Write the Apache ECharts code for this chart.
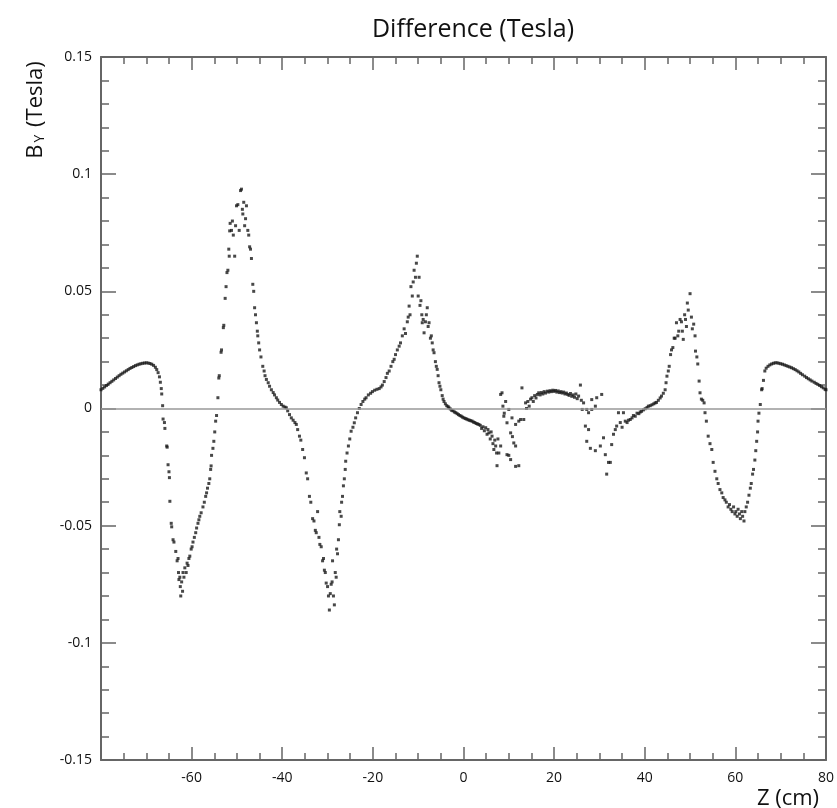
<!DOCTYPE html>
<html>
<head>
<meta charset="utf-8">
<script src="https://cdn.jsdelivr.net/npm/echarts@6/dist/echarts.min.js"></script>
<style>
html,body{margin:0;padding:0;background:#fff;}
#chart{width:837px;height:808px;}
</style>
</head>
<body>
<div id="chart"></div>
<script>
var zCm = [
-80.0,-79.6,-79.2,-78.8,-78.4,-78.0,-77.6,-77.2,-76.8,-76.4,-76.0,-75.6,-75.2,-74.8,-74.4,-74.0,-73.6,-73.2,-72.8,-72.4,-72.0,-71.6,-71.2,-70.8,-70.4,-70.0,-69.6,-69.2,-68.8,-68.4,-68.0,-67.7,-67.4,-67.1,-66.9,-66.7,-66.6,-66.4,-66.3,-66.0,-65.9,-65.5,-65.4,-65.2,-65.0,-64.9,-64.8,-64.5,-64.4,-64.1,-63.9,-63.5,-63.2,-63.0,-62.9,-62.8,-62.6,-62.5,-62.4,-62.2,-62.0,-61.9,-61.7,-61.5,-61.2,-61.0,-60.8,-60.6,-60.4,-60.1,-59.9,-59.7,-59.4,-59.1,-58.9,-58.6,-58.4,-58.2,-57.9,-57.5,-57.2,-56.9,-56.7,-56.5,-56.2,-56.0,-55.8,-55.7,-55.6,-55.3,-55.1,-54.9,-54.7,-54.5,-54.2,-54.0,-53.9,-53.5,-53.4,-53.0,-52.9,-52.6,-52.4,-52.2,-52.0,-51.8,-51.7,-51.6,-51.5,-51.2,-51.0,-50.8,-50.5,-50.3,-50.1,-49.8,-49.5,-49.2,-49.0,-48.8,-48.7,-48.5,-48.3,-48.1,-47.9,-47.6,-47.4,-47.2,-47.0,-46.8,-46.5,-46.3,-46.1,-45.9,-45.7,-45.5,-45.4,-45.2,-45.0,-44.7,-44.3,-44.0,-43.8,-43.5,-43.1,-42.8,-42.4,-42.0,-41.7,-41.3,-41.0,-40.6,-40.2,-39.8,-39.4,-39.1,-38.8,-38.4,-38.0,-37.6,-37.2,-36.9,-36.6,-36.2,-35.9,-35.5,-35.1,-34.7,-34.4,-34.0,-33.7,-33.3,-33.0,-32.7,-32.5,-32.2,-31.9,-31.7,-31.4,-31.1,-30.9,-30.7,-30.5,-30.3,-30.0,-29.8,-29.6,-29.4,-29.2,-29.0,-28.9,-28.7,-28.5,-28.3,-28.1,-28.0,-27.8,-27.6,-27.4,-27.3,-27.0,-26.9,-26.7,-26.5,-26.3,-26.1,-26.0,-25.7,-25.4,-25.1,-24.8,-24.4,-24.1,-23.8,-23.4,-23.0,-22.6,-22.2,-21.8,-21.5,-21.0,-20.5,-20.1,-19.6,-19.1,-18.6,-18.2,-17.9,-17.5,-17.1,-16.8,-16.4,-16.0,-15.6,-15.3,-15.0,-14.6,-14.2,-13.9,-13.5,-13.1,-12.8,-12.4,-12.2,-12.0,-11.8,-11.6,-11.3,-11.1,-10.9,-10.6,-10.4,-10.2,-10.0,-9.8,-9.6,-9.4,-9.2,-9.1,-8.9,-8.7,-8.4,-8.2,-8.0,-7.8,-7.6,-7.3,-7.1,-6.9,-6.7,-6.5,-6.2,-6.0,-5.8,-5.6,-5.4,-5.2,-5.0,-4.7,-4.5,-4.3,-4.0,-3.7,-3.4,-3.2,-2.9,-2.6,-2.3,-2.0,-1.7,-1.4,-1.1,-0.8,-0.5,-0.2,0.1,0.4,0.7,1.0,1.3,1.6,1.9,2.2,2.5,2.8,3.1,3.4,3.7,4.0,4.3,4.6,4.9,5.2,5.4,5.6,5.9,6.1,6.3,6.5,6.7,6.9,7.1,7.3,7.4,7.6,7.8,8.2,8.2,8.5,8.7,8.9,9.0,9.3,9.6,9.6,10.0,10.0,10.4,10.4,10.7,10.8,11.1,11.5,11.5,11.5,12.2,12.2,12.6,12.9,13.3,13.7,13.9,14.2,14.5,14.8,15.1,15.4,15.7,16.0,16.3,16.6,16.9,17.2,17.5,17.8,18.1,18.5,18.8,19.1,19.4,19.7,20.0,20.3,20.6,20.9,21.2,21.5,21.8,22.1,22.4,22.7,23.0,23.3,23.6,23.9,24.2,24.5,24.8,25.1,25.4,25.8,26.0,26.2,26.5,26.9,27.2,27.2,27.6,27.6,28.0,28.3,28.3,29.1,29.1,29.4,30.2,30.5,30.9,31.3,31.6,32.0,32.4,32.7,33.1,33.5,33.8,34.2,34.6,35.0,35.3,35.7,36.1,36.4,36.8,37.2,37.5,37.9,38.3,38.7,39.0,39.3,39.7,40.1,40.5,40.8,41.2,41.6,42.0,42.3,42.6,43.0,43.4,43.7,44.1,44.5,44.7,44.9,45.2,45.4,45.7,45.9,46.2,46.5,46.7,47.0,47.3,47.5,47.8,48.1,48.3,48.5,48.8,49.0,49.2,49.4,49.6,50.0,50.3,50.5,50.8,51.1,51.2,51.5,51.7,52.0,52.2,52.5,52.8,53.1,53.3,53.6,54.0,54.4,54.8,55.1,55.5,55.9,56.2,56.6,57.0,57.3,57.7,58.0,58.4,58.7,59.0,59.3,59.6,59.9,60.1,60.4,60.6,60.9,61.1,61.4,61.6,61.9,62.1,62.4,62.7,63.0,63.3,63.5,63.8,64.0,64.3,64.5,64.7,64.9,65.0,65.2,65.5,65.8,65.9,66.2,66.5,66.8,67.2,67.6,68.0,68.4,68.8,69.2,69.6,70.0,70.4,70.8,71.2,71.6,72.0,72.4,72.8,73.2,73.6,74.0,74.4,74.8,75.3,75.7,76.1,76.5,76.9,77.4,77.8,78.2,78.6,79.0,79.4,79.8,80.0
];
var byTesla = [
0.0080,0.0086,0.0092,0.0098,0.0104,0.0110,0.0116,0.0122,0.0128,0.0134,0.0140,0.0146,0.0151,0.0156,0.0161,0.0166,0.0171,0.0175,0.0179,0.0183,0.0186,0.0189,0.0191,0.0193,0.0194,0.0195,0.0194,0.0192,0.0189,0.0184,0.0176,0.0166,0.0153,0.0135,0.0112,0.0085,0.0062,0.0012,-0.0045,-0.0060,-0.0085,-0.0160,-0.0165,-0.0240,-0.0270,-0.0295,-0.0396,-0.0490,-0.0505,-0.0560,-0.0570,-0.0610,-0.0650,-0.0640,-0.0700,-0.0730,-0.0720,-0.0760,-0.0800,-0.0740,-0.0780,-0.0700,-0.0720,-0.0680,-0.0700,-0.0660,-0.0670,-0.0640,-0.0630,-0.0600,-0.0590,-0.0570,-0.0550,-0.0530,-0.0510,-0.0490,-0.0475,-0.0460,-0.0445,-0.0420,-0.0400,-0.0375,-0.0360,-0.0340,-0.0320,-0.0300,-0.0260,-0.0245,-0.0200,-0.0170,-0.0140,-0.0100,-0.0054,-0.0030,0.0046,0.0130,0.0140,0.0240,0.0250,0.0345,0.0355,0.0470,0.0520,0.0580,0.0590,0.0680,0.0650,0.0758,0.0790,0.0760,0.0800,0.0740,0.0650,0.0780,0.0865,0.0870,0.0760,0.0930,0.0936,0.0850,0.0830,0.0880,0.0780,0.0810,0.0865,0.0760,0.0740,0.0690,0.0680,0.0640,0.0530,0.0500,0.0430,0.0400,0.0366,0.0330,0.0310,0.0280,0.0250,0.0220,0.0180,0.0160,0.0140,0.0124,0.0110,0.0095,0.0080,0.0068,0.0058,0.0046,0.0036,0.0026,0.0017,0.0010,0.0006,0.0003,-0.0010,-0.0026,-0.0040,-0.0050,-0.0060,-0.0068,-0.0090,-0.0118,-0.0135,-0.0175,-0.0210,-0.0275,-0.0300,-0.0375,-0.0400,-0.0470,-0.0480,-0.0520,-0.0530,-0.0440,-0.0550,-0.0580,-0.0590,-0.0650,-0.0640,-0.0690,-0.0700,-0.0745,-0.0760,-0.0800,-0.0860,-0.0790,-0.0750,-0.0740,-0.0650,-0.0800,-0.0838,-0.0700,-0.0720,-0.0600,-0.0620,-0.0560,-0.0496,-0.0440,-0.0460,-0.0400,-0.0375,-0.0330,-0.0300,-0.0260,-0.0225,-0.0190,-0.0160,-0.0130,-0.0097,-0.0080,-0.0061,-0.0040,-0.0018,0.0000,0.0017,0.0030,0.0040,0.0046,0.0058,0.0065,0.0072,0.0078,0.0082,0.0085,0.0092,0.0100,0.0115,0.0132,0.0150,0.0160,0.0180,0.0200,0.0210,0.0230,0.0250,0.0266,0.0280,0.0310,0.0340,0.0320,0.0370,0.0390,0.0437,0.0400,0.0520,0.0480,0.0540,0.0590,0.0560,0.0620,0.0650,0.0480,0.0560,0.0440,0.0460,0.0400,0.0366,0.0380,0.0323,0.0370,0.0400,0.0430,0.0350,0.0366,0.0300,0.0310,0.0280,0.0250,0.0238,0.0200,0.0180,0.0167,0.0140,0.0110,0.0095,0.0080,0.0055,0.0040,0.0030,0.0020,0.0012,0.0008,0.0003,-0.0002,-0.0008,-0.0010,-0.0015,-0.0018,-0.0022,-0.0026,-0.0030,-0.0033,-0.0037,-0.0040,-0.0043,-0.0045,-0.0048,-0.0050,-0.0052,-0.0054,-0.0058,-0.0060,-0.0064,-0.0066,-0.0068,-0.0072,-0.0085,-0.0078,-0.0095,-0.0082,-0.0110,-0.0090,-0.0104,-0.0130,-0.0100,-0.0118,-0.0150,-0.0175,-0.0135,-0.0160,-0.0190,-0.0244,-0.0130,-0.0190,-0.0160,0.0060,0.0067,0.0010,-0.0033,-0.0020,0.0030,-0.0061,-0.0197,-0.0004,-0.0200,-0.0104,-0.0218,-0.0040,-0.0120,-0.0147,-0.0160,-0.0247,-0.0068,-0.0054,-0.0244,-0.0047,0.0088,-0.0047,0.0024,0.0000,0.0030,0.0010,0.0040,0.0046,0.0030,0.0055,0.0045,0.0060,0.0067,0.0058,0.0068,0.0062,0.0072,0.0066,0.0074,0.0070,0.0076,0.0072,0.0078,0.0073,0.0077,0.0070,0.0075,0.0068,0.0072,0.0066,0.0070,0.0062,0.0066,0.0060,0.0056,0.0064,0.0052,0.0058,0.0048,0.0062,0.0042,0.0053,0.0100,0.0035,-0.0004,0.0024,-0.0075,-0.0004,-0.0140,-0.0090,-0.0018,-0.0170,0.0038,-0.0004,-0.0180,0.0010,0.0046,-0.0160,0.0060,-0.0125,-0.0197,-0.0280,-0.0230,-0.0230,-0.0154,-0.0110,-0.0090,-0.0075,-0.0018,-0.0060,-0.0080,-0.0018,-0.0054,-0.0060,-0.0050,-0.0047,-0.0040,-0.0030,-0.0033,-0.0020,-0.0022,-0.0015,-0.0012,-0.0006,-0.0001,0.0004,0.0010,0.0012,0.0016,0.0020,0.0024,0.0026,0.0035,0.0045,0.0053,0.0065,0.0080,0.0110,0.0138,0.0160,0.0180,0.0230,0.0250,0.0260,0.0300,0.0300,0.0366,0.0310,0.0330,0.0380,0.0370,0.0330,0.0295,0.0400,0.0380,0.0350,0.0450,0.0420,0.0490,0.0390,0.0340,0.0360,0.0310,0.0245,0.0220,0.0190,0.0117,0.0067,0.0040,0.0035,0.0024,-0.0018,-0.0054,-0.0118,-0.0150,-0.0175,-0.0230,-0.0268,-0.0300,-0.0320,-0.0346,-0.0360,-0.0380,-0.0390,-0.0400,-0.0420,-0.0410,-0.0430,-0.0440,-0.0420,-0.0450,-0.0440,-0.0460,-0.0430,-0.0450,-0.0470,-0.0440,-0.0460,-0.0480,-0.0440,-0.0420,-0.0400,-0.0370,-0.0340,-0.0320,-0.0280,-0.0260,-0.0220,-0.0180,-0.0140,-0.0100,-0.0054,-0.0020,0.0017,0.0080,0.0085,0.0120,0.0160,0.0172,0.0180,0.0186,0.0190,0.0193,0.0195,0.0195,0.0193,0.0191,0.0189,0.0186,0.0183,0.0180,0.0177,0.0174,0.0170,0.0166,0.0161,0.0156,0.0150,0.0144,0.0138,0.0132,0.0127,0.0122,0.0117,0.0112,0.0107,0.0103,0.0098,0.0093,0.0088,0.0082,0.0080
];
var xTicks = [-60, -40, -20, 0, 20, 40, 60, 80];
var yTicks = [-0.15, -0.1, -0.05, 0, 0.05, 0.1, 0.15];

var points = [];
for (var i = 0; i < zCm.length && i < byTesla.length; i++) points.push([zCm[i], byTesla[i]]);

var FONT = "'Open Sans', 'DejaVu Sans', sans-serif";
var axisLineStyle = { color: '#666', width: 2 };

var chart = echarts.init(document.getElementById('chart'), null, { renderer: 'canvas' });
chart.setOption({
  animation: false,
  backgroundColor: '#fff',
  title: {
    text: 'Difference (Tesla)',
    left: 468, top: 12, textAlign: 'center',
    textStyle: { fontFamily: FONT, fontSize: 25, fontWeight: 'normal', color: '#111' }
  },
  grid: { left: 101, right: 9, top: 57, bottom: 48, containLabel: false },
  xAxis: [{
    type: 'value', min: -80, max: 80, interval: 20,
    axisLine: { show: true, onZero: false, lineStyle: axisLineStyle },
    axisTick: { show: true, inside: true, length: 13, lineStyle: { color: '#666', width: 1.5 } },
    minorTick: { show: true, splitNumber: 4, length: 7, lineStyle: { color: '#666', width: 1.5 } },
    splitLine: { show: false },
    axisLabel: {
      margin: 11, fontFamily: FONT, fontSize: 14, color: '#111',
      formatter: function (v) { return xTicks.indexOf(v) >= 0 ? String(v) : ''; }
    }
  }, {
    type: 'value', min: -80, max: 80, interval: 20, position: 'top',
    axisLine: { show: true, onZero: false, lineStyle: axisLineStyle },
    axisTick: { show: true, inside: true, length: 13, lineStyle: { color: '#666', width: 1.5 } },
    minorTick: { show: true, splitNumber: 4, length: 7, lineStyle: { color: '#666', width: 1.5 } },
    splitLine: { show: false }, axisLabel: { show: false }
  }],
  yAxis: [{
    type: 'value', min: -0.15, max: 0.15, interval: 0.05,
    axisLine: { show: true, onZero: false, lineStyle: axisLineStyle },
    axisTick: { show: true, inside: true, length: 15, lineStyle: { color: '#666', width: 1.5 } },
    minorTick: { show: true, splitNumber: 5, length: 8, lineStyle: { color: '#666', width: 1.5 } },
    splitLine: { show: false },
    axisLabel: {
      margin: 9, fontFamily: FONT, fontSize: 14, color: '#111',
      formatter: function (v) {
        for (var k = 0; k < yTicks.length; k++) if (Math.abs(yTicks[k] - v) < 1e-9) return String(yTicks[k]);
        return '';
      }
    }
  }, {
    type: 'value', min: -0.15, max: 0.15, interval: 0.05, position: 'right',
    axisLine: { show: true, onZero: false, lineStyle: axisLineStyle },
    axisTick: { show: true, inside: true, length: 15, lineStyle: { color: '#666', width: 1.5 } },
    minorTick: { show: true, splitNumber: 5, length: 8, lineStyle: { color: '#666', width: 1.5 } },
    splitLine: { show: false }, axisLabel: { show: false }
  }],
  graphic: [{
    type: 'text', x: 36, y: 110, rotation: Math.PI / 2,
    style: {
      text: 'B{s|Y} (Tesla)', textAlign: 'center', textVerticalAlign: 'middle',
      fontFamily: FONT, fontSize: 22, fill: '#111',
      rich: { s: { fontFamily: FONT, fontSize: 14, fill: '#111', padding: [9, 2, 0, 2] } }
    }
  }, {
    type: 'text', x: 788, y: 799,
    style: { text: 'Z (cm)', textAlign: 'center', textVerticalAlign: 'middle', fontFamily: FONT, fontSize: 22, fill: '#111' }
  }],
  series: [{
    type: 'scatter', xAxisIndex: 0, yAxisIndex: 0,
    data: points,
    symbol: 'rect', symbolSize: 3,
    itemStyle: { color: '#1a1a1a' },
    silent: true,
    markLine: {
      silent: true, symbol: ['none', 'none'], label: { show: false },
      lineStyle: { color: '#999', width: 1.5, type: 'solid' },
      data: [{ yAxis: 0 }]
    }
  }]
});
</script>
</body>
</html>
